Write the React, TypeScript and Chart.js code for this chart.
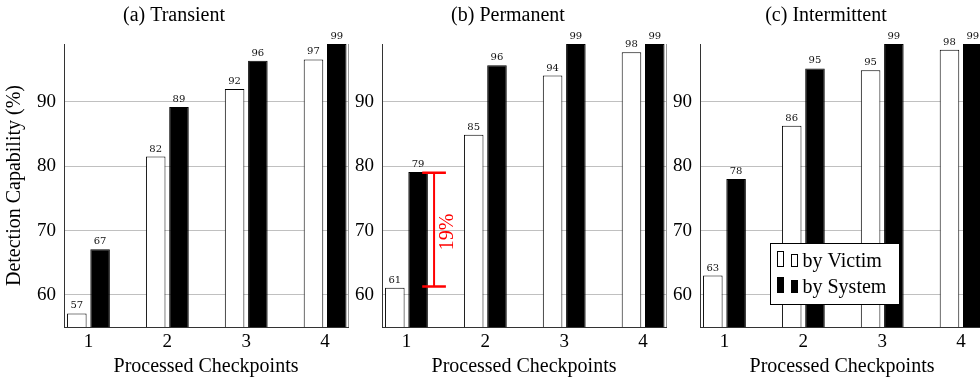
import React, { useEffect, useRef } from 'react';
import { Chart, registerables } from 'chart.js';

Chart.register(...registerables);

// ---------- data ----------
const categories = [1, 2, 3, 4];
const panelTitles = ['(a) Transient', '(b) Permanent', '(c) Intermittent'];
const seriesNames = ['by Victim', 'by System'];

const transientVictim = [57.1, 81.5, 92.0, 96.6];
const transientSystem = [67.1, 89.2, 96.4, 99.0];
const permanentVictim = [61.1, 84.9, 94.1, 97.7];
const permanentSystem = [79.1, 95.7, 99.0, 99.0];
const intermittentVictim = [63.0, 86.3, 94.9, 98.1];
const intermittentSystem = [78.0, 95.2, 99.0, 99.0];

const yTicks = [60, 70, 80, 90];
const yMin = 55;
const yMax = 99;
const xMin = 0.69;
const xMax = 4.29;

const xAxisTitle = 'Processed Checkpoints';
const yAxisTitle = 'Detection Capability (%)';

// annotation in panel (b)
const gapFrom = 61.3;
const gapTo = 79.0;
const gapX = 1.35;
const gapTextX = 1.52;
const gapTextY = 69.8;
const gapLabel = '19%';

const victimSeries = [transientVictim, permanentVictim, intermittentVictim];
const systemSeries = [transientSystem, permanentSystem, intermittentSystem];

// ---------- styles ----------
const SERIF = '"Liberation Serif", "Times New Roman", serif';
const PANEL_LEFT = [0, 350, 668];
const PANEL_WIDTH = [350, 318, 318];
const Y_AXIS_WIDTH = [64, 32, 32];
const HEIGHT = 379;

const overlayPlugin = (panel: number) => ({
  id: 'overlay' + panel,
  afterDraw(chart: any) {
    const ctx = chart.ctx;
    const area = chart.chartArea;
    const xs = chart.scales.x;
    const ys = chart.scales.y;
    ctx.save();

    // right frame line
    ctx.strokeStyle = '#9a9a9a';
    ctx.lineWidth = 1;
    ctx.beginPath();
    ctx.moveTo(Math.round(area.right) + 0.5, area.top);
    ctx.lineTo(Math.round(area.right) + 0.5, area.bottom);
    ctx.stroke();

    // value labels
    ctx.font = '10px "DejaVu Serif", serif';
    ctx.fillStyle = '#111';
    ctx.textAlign = 'center';
    ctx.textBaseline = 'alphabetic';
    chart.data.datasets.forEach((ds: any, di: number) => {
      const meta = chart.getDatasetMeta(di);
      meta.data.forEach((bar: any, i: number) => {
        const v = ds.data[i].y;
        ctx.fillText(String(Math.round(v)), bar.x, bar.y - 5);
      });
    });

    // annotation (panel b)
    if (panel === 1) {
      const px = xs.getPixelForValue(gapX);
      const y1 = ys.getPixelForValue(gapTo);
      const y2 = ys.getPixelForValue(gapFrom);
      const cap = xs.getPixelForValue(gapX + 0.15) - px;
      ctx.strokeStyle = '#ff0000';
      ctx.lineWidth = 2;
      ctx.beginPath();
      ctx.moveTo(px, y1);
      ctx.lineTo(px, y2);
      ctx.stroke();
      ctx.lineWidth = 2.5;
      ctx.beginPath();
      ctx.moveTo(px - cap, y1);
      ctx.lineTo(px + cap, y1);
      ctx.moveTo(px - cap, y2);
      ctx.lineTo(px + cap, y2);
      ctx.stroke();
      ctx.save();
      ctx.translate(xs.getPixelForValue(gapTextX), ys.getPixelForValue(gapTextY));
      ctx.rotate(-Math.PI / 2);
      ctx.fillStyle = '#ff0000';
      ctx.font = '20px ' + SERIF;
      ctx.textAlign = 'center';
      ctx.textBaseline = 'middle';
      ctx.fillText(gapLabel, 0, 0);
      ctx.restore();
    }

    // legend (panel c)
    if (panel === 2) {
      const lx = Math.round(area.left) + 70.5;
      const ly = Math.round(area.top) + 199.5;
      const lw = 129;
      const lh = 61;
      ctx.fillStyle = '#fff';
      ctx.fillRect(lx, ly, lw, lh);
      ctx.strokeStyle = '#000';
      ctx.lineWidth = 1;
      ctx.strokeRect(lx, ly, lw, lh);
      const rows = [23, 49];
      rows.forEach((base, r) => {
        const by = ly + base;
        const fill = r === 0 ? '#fff' : '#000';
        [[7, 15], [21, 12]].forEach(([ox, h]) => {
          ctx.fillStyle = fill;
          ctx.fillRect(lx + ox, by - h, 6, h);
          ctx.strokeStyle = '#000';
          ctx.strokeRect(lx + ox, by - h, 6, h);
        });
        ctx.fillStyle = '#000';
        ctx.font = '20px ' + SERIF;
        ctx.textAlign = 'left';
        ctx.textBaseline = 'alphabetic';
        ctx.fillText(seriesNames[r], lx + 32, by + 0.5);
      });
    }
    ctx.restore();
  },
});

function buildConfig(panel: number): any {
  const victim = victimSeries[panel];
  const system = systemSeries[panel];
  return {
    type: 'bar',
    data: {
      datasets: [
        {
          label: seriesNames[0],
          data: categories.map((c, i) => ({ x: c, y: victim[i] })),
          backgroundColor: '#ffffff',
          borderColor: '#000000',
          borderWidth: 1,
          categoryPercentage: 0.59,
          barPercentage: 0.84,
        },
        {
          label: seriesNames[1],
          data: categories.map((c, i) => ({ x: c, y: system[i] })),
          backgroundColor: '#000000',
          borderColor: '#000000',
          borderWidth: 1,
          categoryPercentage: 0.59,
          barPercentage: 0.84,
        },
      ],
    },
    options: {
      responsive: false,
      animation: false,
      layout: { padding: { left: 0, right: 2, top: 0, bottom: 0 } },
      plugins: {
        legend: { display: false },
        tooltip: { enabled: false },
        title: {
          display: true,
          text: panelTitles[panel],
          color: '#000',
          font: { family: SERIF, size: 20, weight: 'normal' },
          padding: { top: 4, bottom: 16 },
        },
      },
      scales: {
        x: {
          type: 'linear',
          min: xMin,
          max: xMax,
          offset: false,
          z: 1,
          afterBuildTicks: (s: any) => {
            s.ticks = categories.map((v) => ({ value: v }));
          },
          afterFit: (s: any) => {
            s.height = 52;
          },
          grid: { display: false, drawTicks: false, offset: false },
          border: { display: true, color: '#333', width: 1 },
          ticks: {
            color: '#000',
            padding: 4,
            font: { family: SERIF, size: 19 },
            callback: (v: any) => String(v),
          },
          title: {
            display: true,
            text: xAxisTitle,
            color: '#000',
            font: { family: SERIF, size: 20 },
            padding: { top: 0, bottom: 0 },
          },
        },
        y: {
          min: yMin,
          max: yMax,
          z: 1,
          afterBuildTicks: (s: any) => {
            s.ticks = yTicks.map((v) => ({ value: v }));
          },
          afterFit: (s: any) => {
            s.width = Y_AXIS_WIDTH[panel];
          },
          grid: { color: '#c0c0c0', lineWidth: 1, drawTicks: false },
          border: { display: true, color: '#333', width: 1 },
          ticks: {
            color: '#000',
            padding: 8,
            font: { family: SERIF, size: 19 },
          },
          title: {
            display: panel === 0,
            text: yAxisTitle,
            color: '#000',
            font: { family: SERIF, size: 20 },
            padding: { top: 3, bottom: 0 },
          },
        },
      },
    },
    plugins: [overlayPlugin(panel)],
  };
}

function Panel({ panel }: { panel: number }) {
  const ref = useRef<HTMLCanvasElement | null>(null);
  useEffect(() => {
    if (!ref.current) return;
    const chart = new Chart(ref.current, buildConfig(panel));
    return () => chart.destroy();
  }, [panel]);
  return (
    <canvas
      ref={ref}
      width={PANEL_WIDTH[panel]}
      height={HEIGHT}
      style={{
        position: 'absolute',
        left: PANEL_LEFT[panel],
        top: 0,
        width: PANEL_WIDTH[panel],
        height: HEIGHT,
      }}
    />
  );
}

export default function App() {
  return (
    <div
      style={{
        position: 'fixed',
        left: 0,
        top: 0,
        width: 980,
        height: HEIGHT,
        overflow: 'hidden',
        background: '#fff',
      }}
    >
      <Panel panel={0} />
      <Panel panel={1} />
      <Panel panel={2} />
    </div>
  );
}
